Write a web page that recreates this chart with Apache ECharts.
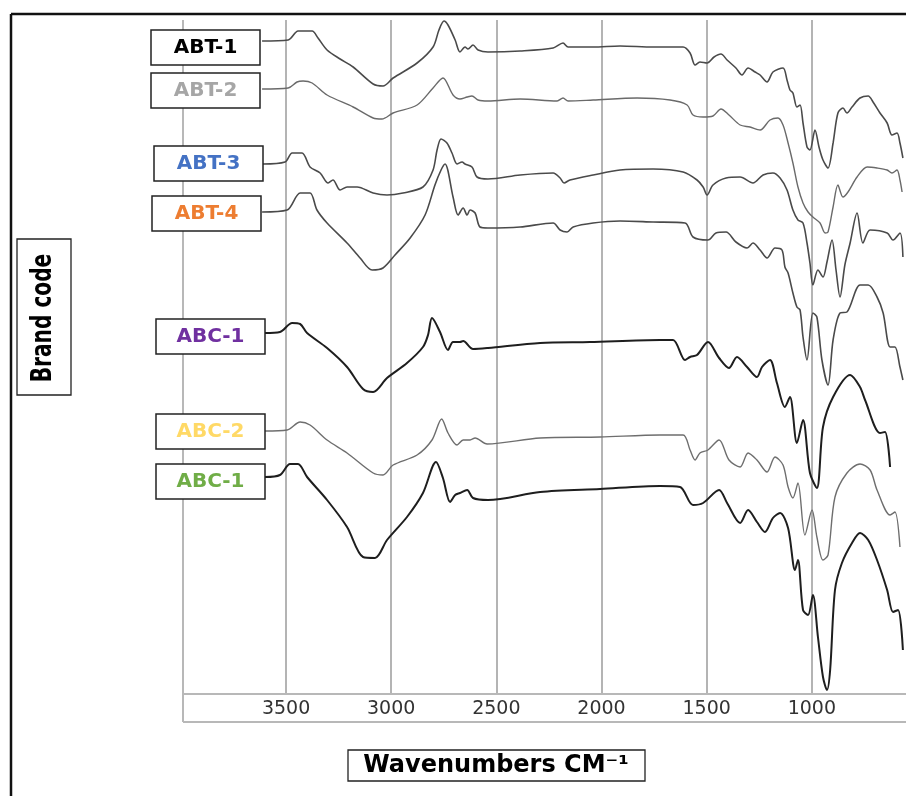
<!DOCTYPE html>
<html><head><meta charset="utf-8">
<script src="https://cdn.jsdelivr.net/npm/echarts@6/dist/echarts.min.js"></script>
<style>html,body{margin:0;padding:0;background:#fff}#c{width:906px;height:796px}</style>
</head><body><div id="c"></div>
<script>
// x tick labels (wavenumbers, cm-1)
const xTicks = [3500, 3000, 2500, 2000, 1500, 1000];
const seriesNames = ['ABT-1', 'ABT-2', 'ABT-3', 'ABT-4', 'ABC-1', 'ABC-2', 'ABC-1 '];
// spectra: [wavenumber, stacked transmittance (a.u.)]
const ABT1 = [[3614,65.3],[3490,65.4],[3443,66.3],[3419,66.3],[3376,66.3],[3348,65.6],[3305,64.4],[3243,63.5],[3181,62.7],[3086,61.0],[3039,60.8],[2991,61.6],[2877,63.1],[2801,64.7],[2773,66.4],[2749,67.3],[2730,66.9],[2696,65.4],[2673,64.2],[2649,64.7],[2635,64.5],[2611,64.9],[2587,64.4],[2540,64.2],[2387,64.3],[2230,64.6],[2183,65.1],[2159,64.7],[2040,64.7],[1912,64.8],[1755,64.7],[1612,64.7],[1579,64.1],[1555,62.9],[1532,63.2],[1498,63.1],[1465,63.7],[1432,64.0],[1403,63.4],[1361,62.6],[1332,61.9],[1303,62.6],[1270,62.2],[1246,61.9],[1213,61.2],[1185,62.2],[1137,62.6],[1118,61.4],[1104,60.4],[1090,60.1],[1071,58.7],[1056,58.9],[1042,57.1],[1023,54.7],[1009,54.4],[985,56.4],[966,54.7],[947,53.4],[923,52.6],[899,55.1],[876,58.1],[852,58.6],[833,58.1],[809,58.7],[771,59.6],[732,59.8],[709,59.2],[676,58.1],[642,57.1],[619,55.9],[595,56.1],[581,55.1],[567,53.6]];
const ABT2 = [[3614,60.5],[3490,60.6],[3448,61.2],[3419,61.3],[3376,61.1],[3305,59.9],[3181,58.7],[3086,57.6],[3044,57.5],[2991,58.1],[2877,58.9],[2801,60.6],[2754,61.6],[2706,59.9],[2673,59.5],[2639,59.7],[2616,59.8],[2587,59.4],[2540,59.3],[2387,59.5],[2211,59.3],[2183,59.6],[2159,59.3],[2040,59.4],[1831,59.6],[1674,59.4],[1593,58.9],[1565,57.9],[1517,57.7],[1470,57.8],[1432,58.5],[1394,57.9],[1341,56.9],[1294,56.7],[1246,56.4],[1199,57.4],[1161,57.6],[1137,56.9],[1113,55.1],[1090,53.1],[1066,50.7],[1042,49.1],[1018,48.2],[995,47.7],[961,47.1],[937,46.1],[923,46.2],[899,48.7],[876,50.9],[852,49.7],[828,50.2],[785,51.7],[737,52.7],[690,52.6],[642,52.4],[619,52.1],[595,52.4],[581,51.4],[571,50.2]];
const ABT3 = [[3610,53.0],[3505,53.2],[3471,54.1],[3424,54.1],[3386,52.7],[3338,52.1],[3300,51.1],[3277,51.4],[3243,50.4],[3210,50.7],[3162,50.7],[3086,50.1],[3020,49.9],[2944,50.1],[2849,50.7],[2801,52.4],[2782,54.4],[2763,55.5],[2735,55.1],[2711,54.1],[2687,53.0],[2663,53.2],[2649,53.0],[2616,52.7],[2592,51.7],[2540,51.5],[2387,51.9],[2230,52.1],[2197,51.6],[2178,51.1],[2150,51.4],[2040,51.9],[1912,52.4],[1755,52.5],[1612,52.2],[1546,51.4],[1517,50.7],[1498,49.9],[1470,50.9],[1408,51.6],[1341,51.7],[1280,51.1],[1232,51.9],[1185,52.1],[1151,51.6],[1118,50.4],[1090,48.4],[1066,47.4],[1042,47.1],[1023,45.1],[1009,43.1],[995,40.9],[971,42.4],[947,41.7],[928,43.2],[904,45.4],[885,42.4],[866,39.7],[843,42.9],[818,45.1],[785,48.1],[757,45.1],[723,46.4],[642,46.1],[614,45.4],[581,46.1],[567,43.7]];
const ABT4 = [[3614,48.2],[3495,48.4],[3433,50.1],[3386,50.1],[3353,48.4],[3305,47.1],[3210,45.1],[3148,43.6],[3091,42.4],[3039,42.6],[2982,43.9],[2910,45.6],[2839,47.9],[2792,50.9],[2763,52.4],[2744,53.0],[2706,49.7],[2682,47.9],[2658,48.6],[2639,47.9],[2625,48.4],[2601,48.1],[2578,46.7],[2540,46.6],[2387,46.7],[2230,47.1],[2197,46.4],[2164,46.2],[2135,46.7],[2040,47.1],[1912,47.3],[1755,47.2],[1603,47.1],[1565,45.7],[1494,45.4],[1456,46.1],[1408,46.2],[1361,45.2],[1308,44.6],[1280,45.1],[1246,44.4],[1213,43.6],[1175,44.6],[1142,44.4],[1128,42.7],[1113,42.1],[1090,40.1],[1071,38.7],[1056,38.4],[1042,35.7],[1023,33.4],[995,38.1],[976,37.7],[952,33.4],[923,30.9],[899,35.4],[866,38.1],[833,38.2],[771,40.9],[732,40.9],[690,39.7],[661,38.1],[628,34.7],[605,34.7],[581,32.7],[567,31.4]];
const ABC1 = [[3600,36.1],[3529,36.2],[3471,37.1],[3433,37.0],[3400,36.1],[3305,34.6],[3210,32.7],[3134,30.5],[3086,30.2],[3020,31.6],[2925,33.1],[2849,34.7],[2825,35.9],[2806,37.6],[2768,36.2],[2730,34.4],[2706,35.2],[2673,35.2],[2658,35.3],[2611,34.5],[2540,34.6],[2292,35.1],[2055,35.2],[1722,35.4],[1660,35.4],[1603,33.4],[1579,33.7],[1546,33.9],[1494,35.2],[1441,33.6],[1394,32.6],[1356,33.7],[1308,32.7],[1261,31.7],[1237,32.7],[1199,33.4],[1166,31.1],[1128,28.7],[1104,29.7],[1071,25.1],[1042,27.4],[1009,22.1],[976,20.6],[947,26.7],[899,29.7],[818,31.9],[771,30.7],[747,29.4],[676,26.1],[652,26.2],[628,22.7]];
const ABC2 = [[3600,26.3],[3495,26.4],[3433,27.2],[3386,26.9],[3305,25.4],[3210,24.1],[3086,22.1],[3039,21.9],[2991,22.9],[2877,23.9],[2806,25.4],[2760,27.5],[2730,26.1],[2687,24.9],[2658,25.4],[2625,25.4],[2601,25.6],[2544,25.0],[2292,25.6],[2007,25.7],[1722,25.9],[1612,25.9],[1579,24.4],[1555,23.4],[1532,24.1],[1494,24.4],[1441,25.4],[1394,23.4],[1341,22.7],[1303,24.1],[1261,23.4],[1213,22.2],[1175,23.7],[1137,22.9],[1113,20.7],[1090,19.6],[1066,21.1],[1033,15.9],[999,18.4],[976,15.7],[947,13.4],[923,13.9],[890,19.7],[833,22.1],[771,23.0],[723,22.4],[690,20.4],[628,17.9],[605,18.2],[581,14.7]];
const ABC1b = [[3600,21.7],[3529,21.9],[3481,23.0],[3443,23.0],[3400,21.7],[3305,19.4],[3210,16.7],[3134,13.7],[3077,13.6],[3020,15.4],[2925,17.7],[2849,20.1],[2787,23.2],[2754,21.6],[2720,19.2],[2696,19.9],[2673,20.1],[2639,20.4],[2611,19.6],[2540,19.4],[2292,20.2],[2007,20.5],[1722,20.8],[1627,20.7],[1565,18.9],[1517,19.1],[1441,20.4],[1403,19.1],[1341,17.1],[1303,18.4],[1261,17.2],[1223,16.2],[1185,17.6],[1151,18.1],[1113,16.6],[1080,12.4],[1066,13.4],[1042,8.4],[1018,7.9],[995,9.9],[971,5.7],[947,1.7],[928,0.4],[913,2.4],[890,10.4],[857,13.1],[809,15.1],[771,16.1],[732,15.4],[690,13.4],[642,10.4],[614,8.2],[590,8.4],[567,4.4]];

const spectra = [ABT1, ABT2, ABT3, ABT4, ABC1, ABC2, ABC1b];
const lineColors = ['#4a4a4a', '#6a6a6a', '#4a4a4a', '#4a4a4a', '#1e1e1e', '#6e6e6e', '#1e1e1e'];
const lineWidths = [1.6, 1.4, 1.6, 1.6, 2, 1.4, 2];
const labelColors = ['#000000', '#a6a6a6', '#4472c4', '#ed7d31', '#7030a0', '#ffd966', '#70ad47'];
const labelBoxes = [[151,30],[151,73],[154,146],[152,196],[156,319],[156,414],[156,464]];

const chart = echarts.init(document.getElementById('c'), null, {renderer: 'canvas'});

const graphics = [
  {type:'line', shape:{x1:11,y1:14,x2:906,y2:14}, style:{stroke:'#111', lineWidth:2.5}, z:100},
  {type:'line', shape:{x1:11,y1:14,x2:11,y2:796}, style:{stroke:'#111', lineWidth:2.5}, z:100},
  {type:'line', shape:{x1:183,y1:20,x2:183,y2:722}, style:{stroke:'#b8b8b8', lineWidth:2}, z:1},
  {type:'line', shape:{x1:183,y1:722,x2:906,y2:722}, style:{stroke:'#b8b8b8', lineWidth:2}, z:1},
  {type:'rect', shape:{x:17,y:239,width:54,height:156}, style:{fill:'#fff', stroke:'#222', lineWidth:1.3}, z:50},
  {type:'text', x:44, y:318, rotation:Math.PI/2, scaleX:0.8, style:{text:'Brand code', font:"bold 28px 'Liberation Sans Narrow', 'DejaVu Sans Condensed', 'Liberation Sans', sans-serif", fill:'#000', align:'center', verticalAlign:'middle'}, z:51},
  {type:'rect', shape:{x:348,y:750,width:297,height:31}, style:{fill:'#fff', stroke:'#222', lineWidth:1.3}, z:50},
  {type:'text', x:496, y:766, style:{text:'Wavenumbers CM\u207B\u00B9', font:"bold 24px 'DejaVu Sans', sans-serif", fill:'#000', align:'center', verticalAlign:'middle'}, z:51}
];
seriesNames.forEach((n, i) => {
  const [bx, by] = labelBoxes[i];
  graphics.push({type:'rect', shape:{x:bx,y:by,width:109,height:35}, style:{fill:'#fff', stroke:'#222', lineWidth:1.5}, z:50});
  graphics.push({type:'text', x:bx+54.5, y:by+18, style:{text:n.trim(), font:"bold 20px 'DejaVu Sans', sans-serif", fill:labelColors[i], align:'center', verticalAlign:'middle'}, z:51});
});

chart.setOption({
  animation: false,
  backgroundColor: '#fff',
  grid: {left: 183, top: 20, width: 734, height: 674, outerBoundsMode: 'none', containLabel: false},
  xAxis: {
    type: 'value', inverse: true, min: 500, max: 3990, interval: 500,
    axisLine: {show: true, lineStyle: {color: '#b8b8b8', width: 2}},
    axisTick: {show: false},
    splitLine: {show: true, lineStyle: {color: '#b4b4b4', width: 2}},
    axisLabel: {color: '#333', fontSize: 19, fontFamily: 'DejaVu Sans', margin: 6,
      formatter: v => xTicks.includes(v) ? String(v) : ''}
  },
  yAxis: {type: 'value', min: 0, max: 67.4, show: false},
  series: spectra.map((d, i) => ({
    name: seriesNames[i], type: 'line', data: d, showSymbol: false, smooth: 0.3,
    lineStyle: {color: lineColors[i], width: lineWidths[i]}, z: 5
  })),
  graphic: graphics
});
</script></body></html>
